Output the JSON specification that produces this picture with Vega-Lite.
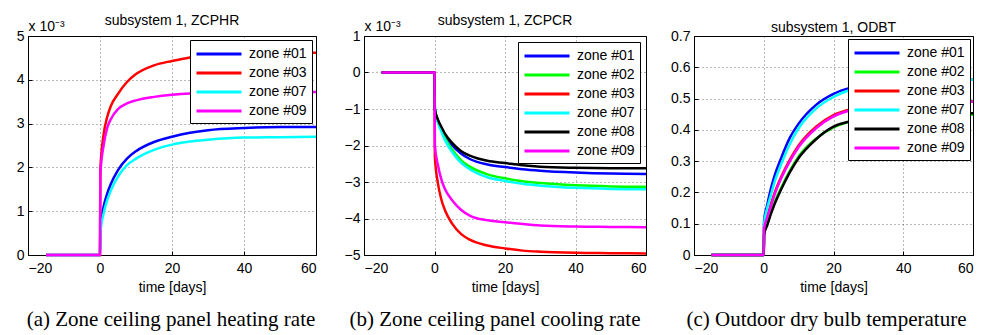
{
  "$schema": "https://vega.github.io/schema/vega-lite/v6.json",
  "padding": {"left": 15, "top": 13, "right": 0, "bottom": 0},
  "background": "white",
  "columns": 3,
  "bounds": "flush",
  "spacing": {"row": 53, "column": 48},
  "resolve": {"scale": {"color": "independent", "x": "independent", "y": "independent"}, "legend": {"color": "independent"}, "axis": {"x": "independent", "y": "independent"}},
  "datasets": {
    "p1": [
      {"z":"zone #01","t":-15,"v":0},{"z":"zone #01","t":0,"v":0},{"z":"zone #01","t":0.1,"v":0.6},{"z":"zone #01","t":1,"v":1.1},{"z":"zone #01","t":2,"v":1.4},{"z":"zone #01","t":3,"v":1.62},{"z":"zone #01","t":5,"v":1.94},{"z":"zone #01","t":7.5,"v":2.2},{"z":"zone #01","t":10,"v":2.37},{"z":"zone #01","t":15,"v":2.58},{"z":"zone #01","t":20,"v":2.7},{"z":"zone #01","t":25,"v":2.79},{"z":"zone #01","t":30,"v":2.85},{"z":"zone #01","t":40,"v":2.9},{"z":"zone #01","t":50,"v":2.92},{"z":"zone #01","t":60,"v":2.92},
      {"z":"zone #03","t":-15,"v":0},{"z":"zone #03","t":0,"v":0},{"z":"zone #03","t":0.1,"v":1.95},{"z":"zone #03","t":1,"v":2.75},{"z":"zone #03","t":2,"v":3.15},{"z":"zone #03","t":3,"v":3.4},{"z":"zone #03","t":5,"v":3.68},{"z":"zone #03","t":7.5,"v":3.95},{"z":"zone #03","t":10,"v":4.13},{"z":"zone #03","t":15,"v":4.33},{"z":"zone #03","t":20,"v":4.43},{"z":"zone #03","t":25,"v":4.51},{"z":"zone #03","t":30,"v":4.56},{"z":"zone #03","t":40,"v":4.6},{"z":"zone #03","t":50,"v":4.61},{"z":"zone #03","t":60,"v":4.62},
      {"z":"zone #07","t":-15,"v":0},{"z":"zone #07","t":0,"v":0},{"z":"zone #07","t":0.1,"v":0.5},{"z":"zone #07","t":1,"v":0.95},{"z":"zone #07","t":2,"v":1.25},{"z":"zone #07","t":3,"v":1.47},{"z":"zone #07","t":5,"v":1.79},{"z":"zone #07","t":7.5,"v":2.05},{"z":"zone #07","t":10,"v":2.2},{"z":"zone #07","t":15,"v":2.4},{"z":"zone #07","t":20,"v":2.52},{"z":"zone #07","t":25,"v":2.59},{"z":"zone #07","t":30,"v":2.63},{"z":"zone #07","t":40,"v":2.68},{"z":"zone #07","t":50,"v":2.69},{"z":"zone #07","t":60,"v":2.7},
      {"z":"zone #09","t":-15,"v":0},{"z":"zone #09","t":0,"v":0},{"z":"zone #09","t":0.1,"v":1.85},{"z":"zone #09","t":1,"v":2.5},{"z":"zone #09","t":2,"v":2.9},{"z":"zone #09","t":3,"v":3.1},{"z":"zone #09","t":5,"v":3.33},{"z":"zone #09","t":7.5,"v":3.46},{"z":"zone #09","t":10,"v":3.53},{"z":"zone #09","t":15,"v":3.61},{"z":"zone #09","t":20,"v":3.66},{"z":"zone #09","t":25,"v":3.69},{"z":"zone #09","t":30,"v":3.7},{"z":"zone #09","t":40,"v":3.71},{"z":"zone #09","t":50,"v":3.72},{"z":"zone #09","t":60,"v":3.72}
    ],
    "p2": [
      {"z":"zone #01","t":-15,"v":0},{"z":"zone #01","t":0,"v":0},{"z":"zone #01","t":0.1,"v":-1.0},{"z":"zone #01","t":1,"v":-1.32},{"z":"zone #01","t":2,"v":-1.53},{"z":"zone #01","t":3,"v":-1.72},{"z":"zone #01","t":5,"v":-1.99},{"z":"zone #01","t":7.5,"v":-2.22},{"z":"zone #01","t":10,"v":-2.37},{"z":"zone #01","t":15,"v":-2.52},{"z":"zone #01","t":20,"v":-2.59},{"z":"zone #01","t":25,"v":-2.65},{"z":"zone #01","t":30,"v":-2.69},{"z":"zone #01","t":40,"v":-2.74},{"z":"zone #01","t":50,"v":-2.77},{"z":"zone #01","t":60,"v":-2.78},
      {"z":"zone #02","t":-15,"v":0},{"z":"zone #02","t":0,"v":0},{"z":"zone #02","t":0.1,"v":-1.0},{"z":"zone #02","t":1,"v":-1.35},{"z":"zone #02","t":2,"v":-1.58},{"z":"zone #02","t":3,"v":-1.8},{"z":"zone #02","t":5,"v":-2.11},{"z":"zone #02","t":7.5,"v":-2.4},{"z":"zone #02","t":10,"v":-2.58},{"z":"zone #02","t":15,"v":-2.79},{"z":"zone #02","t":20,"v":-2.9},{"z":"zone #02","t":25,"v":-2.98},{"z":"zone #02","t":30,"v":-3.03},{"z":"zone #02","t":40,"v":-3.09},{"z":"zone #02","t":50,"v":-3.12},{"z":"zone #02","t":60,"v":-3.13},
      {"z":"zone #03","t":-15,"v":0},{"z":"zone #03","t":0,"v":0},{"z":"zone #03","t":0.1,"v":-2.3},{"z":"zone #03","t":1,"v":-3.05},{"z":"zone #03","t":2,"v":-3.5},{"z":"zone #03","t":3,"v":-3.78},{"z":"zone #03","t":5,"v":-4.14},{"z":"zone #03","t":7.5,"v":-4.42},{"z":"zone #03","t":10,"v":-4.58},{"z":"zone #03","t":15,"v":-4.74},{"z":"zone #03","t":20,"v":-4.82},{"z":"zone #03","t":25,"v":-4.88},{"z":"zone #03","t":30,"v":-4.91},{"z":"zone #03","t":40,"v":-4.94},{"z":"zone #03","t":50,"v":-4.95},{"z":"zone #03","t":60,"v":-4.96},
      {"z":"zone #07","t":-15,"v":0},{"z":"zone #07","t":0,"v":0},{"z":"zone #07","t":0.1,"v":-1.0},{"z":"zone #07","t":1,"v":-1.38},{"z":"zone #07","t":2,"v":-1.63},{"z":"zone #07","t":3,"v":-1.86},{"z":"zone #07","t":5,"v":-2.18},{"z":"zone #07","t":7.5,"v":-2.47},{"z":"zone #07","t":10,"v":-2.65},{"z":"zone #07","t":15,"v":-2.87},{"z":"zone #07","t":20,"v":-2.97},{"z":"zone #07","t":25,"v":-3.05},{"z":"zone #07","t":30,"v":-3.1},{"z":"zone #07","t":40,"v":-3.16},{"z":"zone #07","t":50,"v":-3.19},{"z":"zone #07","t":60,"v":-3.2},
      {"z":"zone #08","t":-15,"v":0},{"z":"zone #08","t":0,"v":0},{"z":"zone #08","t":0.1,"v":-1.0},{"z":"zone #08","t":1,"v":-1.3},{"z":"zone #08","t":2,"v":-1.5},{"z":"zone #08","t":3,"v":-1.68},{"z":"zone #08","t":5,"v":-1.93},{"z":"zone #08","t":7.5,"v":-2.15},{"z":"zone #08","t":10,"v":-2.28},{"z":"zone #08","t":15,"v":-2.42},{"z":"zone #08","t":20,"v":-2.48},{"z":"zone #08","t":25,"v":-2.54},{"z":"zone #08","t":30,"v":-2.58},{"z":"zone #08","t":40,"v":-2.61},{"z":"zone #08","t":50,"v":-2.62},{"z":"zone #08","t":60,"v":-2.62},
      {"z":"zone #09","t":-15,"v":0},{"z":"zone #09","t":0,"v":0},{"z":"zone #09","t":0.1,"v":-2.0},{"z":"zone #09","t":1,"v":-2.55},{"z":"zone #09","t":2,"v":-2.95},{"z":"zone #09","t":3,"v":-3.2},{"z":"zone #09","t":5,"v":-3.5},{"z":"zone #09","t":7.5,"v":-3.76},{"z":"zone #09","t":10,"v":-3.92},{"z":"zone #09","t":15,"v":-4.05},{"z":"zone #09","t":20,"v":-4.1},{"z":"zone #09","t":25,"v":-4.15},{"z":"zone #09","t":30,"v":-4.19},{"z":"zone #09","t":40,"v":-4.22},{"z":"zone #09","t":50,"v":-4.23},{"z":"zone #09","t":60,"v":-4.24}
    ],
    "p3": [
      {"z":"zone #01","t":-15,"v":0},{"z":"zone #01","t":0,"v":0},{"z":"zone #01","t":0.1,"v":0.11},{"z":"zone #01","t":1,"v":0.16},{"z":"zone #01","t":2,"v":0.21},{"z":"zone #01","t":3,"v":0.25},{"z":"zone #01","t":5,"v":0.31},{"z":"zone #01","t":7.5,"v":0.375},{"z":"zone #01","t":10,"v":0.42},{"z":"zone #01","t":15,"v":0.48},{"z":"zone #01","t":20,"v":0.515},{"z":"zone #01","t":25,"v":0.535},{"z":"zone #01","t":30,"v":0.546},{"z":"zone #01","t":40,"v":0.556},{"z":"zone #01","t":50,"v":0.559},{"z":"zone #01","t":60,"v":0.56},
      {"z":"zone #02","t":-15,"v":0},{"z":"zone #02","t":0,"v":0},{"z":"zone #02","t":0.1,"v":0.07},{"z":"zone #02","t":1,"v":0.1},{"z":"zone #02","t":2,"v":0.135},{"z":"zone #02","t":3,"v":0.165},{"z":"zone #02","t":5,"v":0.215},{"z":"zone #02","t":7.5,"v":0.27},{"z":"zone #02","t":10,"v":0.315},{"z":"zone #02","t":15,"v":0.372},{"z":"zone #02","t":20,"v":0.408},{"z":"zone #02","t":25,"v":0.427},{"z":"zone #02","t":30,"v":0.437},{"z":"zone #02","t":40,"v":0.445},{"z":"zone #02","t":50,"v":0.447},{"z":"zone #02","t":60,"v":0.448},
      {"z":"zone #03","t":-15,"v":0},{"z":"zone #03","t":0,"v":0},{"z":"zone #03","t":0.1,"v":0.09},{"z":"zone #03","t":1,"v":0.125},{"z":"zone #03","t":2,"v":0.16},{"z":"zone #03","t":3,"v":0.195},{"z":"zone #03","t":5,"v":0.25},{"z":"zone #03","t":7.5,"v":0.305},{"z":"zone #03","t":10,"v":0.35},{"z":"zone #03","t":15,"v":0.41},{"z":"zone #03","t":20,"v":0.447},{"z":"zone #03","t":25,"v":0.466},{"z":"zone #03","t":30,"v":0.477},{"z":"zone #03","t":40,"v":0.487},{"z":"zone #03","t":50,"v":0.49},{"z":"zone #03","t":60,"v":0.491},
      {"z":"zone #07","t":-15,"v":0},{"z":"zone #07","t":0,"v":0},{"z":"zone #07","t":0.1,"v":0.1},{"z":"zone #07","t":1,"v":0.15},{"z":"zone #07","t":2,"v":0.19},{"z":"zone #07","t":3,"v":0.23},{"z":"zone #07","t":5,"v":0.29},{"z":"zone #07","t":7.5,"v":0.355},{"z":"zone #07","t":10,"v":0.405},{"z":"zone #07","t":15,"v":0.468},{"z":"zone #07","t":20,"v":0.505},{"z":"zone #07","t":25,"v":0.528},{"z":"zone #07","t":30,"v":0.542},{"z":"zone #07","t":40,"v":0.554},{"z":"zone #07","t":50,"v":0.558},{"z":"zone #07","t":60,"v":0.56},
      {"z":"zone #08","t":-15,"v":0},{"z":"zone #08","t":0,"v":0},{"z":"zone #08","t":0.1,"v":0.065},{"z":"zone #08","t":1,"v":0.095},{"z":"zone #08","t":2,"v":0.13},{"z":"zone #08","t":3,"v":0.16},{"z":"zone #08","t":5,"v":0.21},{"z":"zone #08","t":7.5,"v":0.265},{"z":"zone #08","t":10,"v":0.31},{"z":"zone #08","t":15,"v":0.37},{"z":"zone #08","t":20,"v":0.41},{"z":"zone #08","t":25,"v":0.428},{"z":"zone #08","t":30,"v":0.44},{"z":"zone #08","t":40,"v":0.449},{"z":"zone #08","t":50,"v":0.452},{"z":"zone #08","t":60,"v":0.453},
      {"z":"zone #09","t":-15,"v":0},{"z":"zone #09","t":0,"v":0},{"z":"zone #09","t":0.1,"v":0.085},{"z":"zone #09","t":1,"v":0.12},{"z":"zone #09","t":2,"v":0.155},{"z":"zone #09","t":3,"v":0.19},{"z":"zone #09","t":5,"v":0.245},{"z":"zone #09","t":7.5,"v":0.3},{"z":"zone #09","t":10,"v":0.345},{"z":"zone #09","t":15,"v":0.405},{"z":"zone #09","t":20,"v":0.443},{"z":"zone #09","t":25,"v":0.463},{"z":"zone #09","t":30,"v":0.475},{"z":"zone #09","t":40,"v":0.486},{"z":"zone #09","t":50,"v":0.489},{"z":"zone #09","t":60,"v":0.49}
    ],
    "captions": [
      {"panel": "a", "caption": "(a) Zone ceiling panel heating rate"},
      {"panel": "b", "caption": "(b) Zone ceiling panel cooling rate"},
      {"panel": "c", "caption": "(c) Outdoor dry bulb temperature"}
    ]
  },
  "concat": [
    {
      "width": 288, "height": 219,
      "title": {"text": "subsystem 1, ZCPHR", "offset": -9},
      "data": {"name": "p1"},
      "mark": {"type": "line", "strokeWidth": 2.5, "interpolate": "monotone"},
      "encoding": {
        "x": {"field": "t", "type": "quantitative", "scale": {"domain": [-20, 60], "nice": false}, "axis": {"values": [-20, 0, 20, 40, 60], "title": "time [days]"}},
        "y": {"field": "v", "type": "quantitative", "scale": {"domain": [0, 5], "nice": false}, "axis": {"values": [0, 1, 2, 3, 4, 5], "title": "x 10⁻³", "titleAngle": 0, "titleX": 0, "titleY": -3, "titleAlign": "left", "titleBaseline": "bottom"}},
        "color": {"field": "z", "type": "nominal", "scale": {"domain": ["zone #01", "zone #03", "zone #07", "zone #09"], "range": ["#0000ff", "#ff0000", "#00ffff", "#ff00ff"]}, "legend": {"title": null, "offset": 4}}
      }
    },
    {
      "width": 282, "height": 219,
      "title": {"text": "subsystem 1, ZCPCR", "offset": -9},
      "data": {"name": "p2"},
      "mark": {"type": "line", "strokeWidth": 2.5, "interpolate": "monotone"},
      "encoding": {
        "x": {"field": "t", "type": "quantitative", "scale": {"domain": [-20, 60], "nice": false}, "axis": {"values": [-20, 0, 20, 40, 60], "title": "time [days]"}},
        "y": {"field": "v", "type": "quantitative", "scale": {"domain": [-5, 1], "nice": false}, "axis": {"values": [-5, -4, -3, -2, -1, 0, 1], "title": "x 10⁻³", "titleAngle": 0, "titleX": 0, "titleY": -3, "titleAlign": "left", "titleBaseline": "bottom"}},
        "color": {"field": "z", "type": "nominal", "scale": {"domain": ["zone #01", "zone #02", "zone #03", "zone #07", "zone #08", "zone #09"], "range": ["#0000ff", "#00ff00", "#ff0000", "#00ffff", "#000000", "#ff00ff"]}, "legend": {"title": null, "offset": 6}}
      }
    },
    {
      "width": 279, "height": 219,
      "title": {"text": "subsystem 1, ODBT", "offset": -6},
      "data": {"name": "p3"},
      "mark": {"type": "line", "strokeWidth": 2.5, "interpolate": "monotone"},
      "encoding": {
        "x": {"field": "t", "type": "quantitative", "scale": {"domain": [-20, 60], "nice": false}, "axis": {"values": [-20, 0, 20, 40, 60], "title": "time [days]"}},
        "y": {"field": "v", "type": "quantitative", "scale": {"domain": [0, 0.7], "nice": false}, "axis": {"values": [0, 0.1, 0.2, 0.3, 0.4, 0.5, 0.6, 0.7], "format": "~g", "title": null}},
        "color": {"field": "z", "type": "nominal", "scale": {"domain": ["zone #01", "zone #02", "zone #03", "zone #07", "zone #08", "zone #09"], "range": ["#0000ff", "#00ff00", "#ff0000", "#00ffff", "#000000", "#ff00ff"]}, "legend": {"title": null, "offset": 3}}
      }
    },
    {
      "width": 288, "height": 24, "view": {"stroke": null},
      "data": {"name": "captions"},
      "transform": [{"filter": "datum.panel === 'a'"}],
      "mark": {"type": "text", "font": "Liberation Serif", "fontSize": 21, "color": "black", "dx": -1},
      "encoding": {"text": {"field": "caption"}}
    },
    {
      "width": 282, "height": 24, "view": {"stroke": null},
      "data": {"name": "captions"},
      "transform": [{"filter": "datum.panel === 'b'"}],
      "mark": {"type": "text", "font": "Liberation Serif", "fontSize": 21, "color": "black", "dx": -10},
      "encoding": {"text": {"field": "caption"}}
    },
    {
      "width": 279, "height": 24, "view": {"stroke": null},
      "data": {"name": "captions"},
      "transform": [{"filter": "datum.panel === 'c'"}],
      "mark": {"type": "text", "font": "Liberation Serif", "fontSize": 21, "color": "black", "dx": -7},
      "encoding": {"text": {"field": "caption"}}
    }
  ],
  "config": {
    "font": "Liberation Sans",
    "view": {"stroke": "black", "strokeWidth": 1},
    "axis": {
      "labelFont": "Liberation Sans", "labelFontSize": 14, "labelColor": "black",
      "titleFont": "Liberation Sans", "titleFontSize": 14, "titleFontWeight": "normal", "titleColor": "black",
      "domainColor": "black", "tickColor": "black", "tickSize": -4, "labelPadding": 8,
      "grid": true, "gridColor": "#000000", "gridDash": [1, 3], "gridOpacity": 0.55
    },
    "axisX": {"labelPadding": 10, "titlePadding": 5},
    "title": {"font": "Liberation Sans", "fontSize": 14, "fontWeight": "normal", "color": "black"},
    "legend": {
      "orient": "top-right", "fillColor": "white", "strokeColor": "black", "padding": 5,
      "symbolType": "M-1,0H5", "symbolSize": 225, "symbolStrokeWidth": 3,
      "labelFont": "Liberation Sans", "labelFontSize": 14, "labelColor": "black", "labelOffset": 36, "rowPadding": 3
    }
  }
}
